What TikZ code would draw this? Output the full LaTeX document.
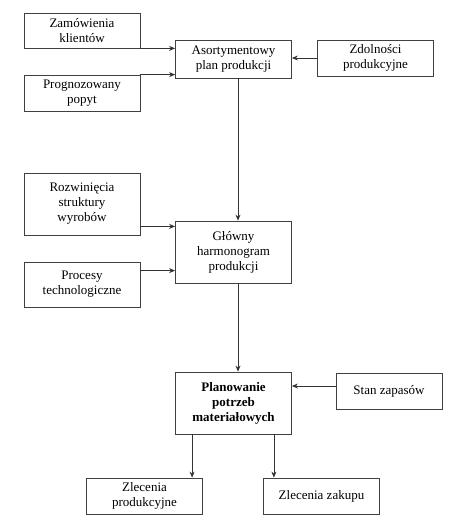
\documentclass[tikz,border=0pt]{standalone}
\usepackage{fontspec}
\setmainfont{Liberation Serif}
\usetikzlibrary{arrows.meta}
\begin{document}
\begin{tikzpicture}[x=1pt, y=-1pt,
  box/.style={draw=black!75, line width=0.8pt, minimum width=116pt, inner sep=0pt,
    align=center, font=\fontsize{13}{15}\selectfont},
  arr/.style={draw=black!80, line width=0.8pt, -{Stealth[length=6pt,width=5pt]}}]
  \useasboundingbox (0,0) rectangle (474,520);

  % wejscia planu asortymentowego
  \node[box, minimum height=35pt] (zam) at (82,30.5) {Zamówienia\\klientów};
  \node[box, minimum height=36pt] (prog) at (82,93) {Prognozowany\\popyt};
  \node[box, minimum height=38pt] (aso) at (233.5,59) {Asortymentowy\\plan produkcji};
  \node[box, minimum height=36pt] (zdo) at (375.5,58) {Zdolności\\produkcyjne};

  % harmonogram
  \node[box, minimum height=62pt] (roz) at (82,204) {Rozwinięcia\\struktury\\wyrobów};
  \node[box, minimum height=45pt] (proc) at (82,284.5) {Procesy\\technologiczne};
  \node[box, minimum height=62pt] (glo) at (233.5,252) {Główny\\harmonogram\\produkcji};

  % MRP
  \node[box, minimum height=62pt, font=\fontsize{13}{15}\selectfont\bfseries] (pla) at (233.5,403) {Planowanie\\potrzeb\\materiałowych};
  \node[box, minimum height=36pt, minimum width=106pt] (stan) at (389,391) {Stan zapasów};
  \node[box, minimum height=36pt] (zlp) at (144.5,496) {Zlecenia\\produkcyjne};
  \node[box, minimum height=36pt] (zlz) at (321.5,496) {Zlecenia zakupu};

  \draw[arr] (zam.south east) -- (zam.south east -| aso.west);
  \draw[arr] (prog.north east) -- (prog.north east -| aso.west);
  \draw[arr] (zdo.west) -- (zdo.west -| aso.east);
  \draw[arr] ([xshift=4.5pt]aso.south) -- ([xshift=4.5pt]glo.north);

  \draw[arr] ([yshift=9pt]roz.south east) -- ([yshift=9pt]roz.south east -| glo.west);
  \draw[arr] ([yshift=-9pt]proc.north east) -- ([yshift=-9pt]proc.north east -| glo.west);
  \draw[arr] ([xshift=4.5pt]glo.south) -- ([xshift=4.5pt]pla.north);

  \draw[arr] ([yshift=5pt]stan.west) -- ([yshift=5pt]stan.west -| pla.east);
  \draw[arr] ([xshift=17pt]pla.south west) -- ([xshift=17pt]pla.south west |- zlp.north);
  \draw[arr] ([xshift=-18pt]pla.south east) -- ([xshift=-18pt]pla.south east |- zlz.north);
\end{tikzpicture}
\end{document}
